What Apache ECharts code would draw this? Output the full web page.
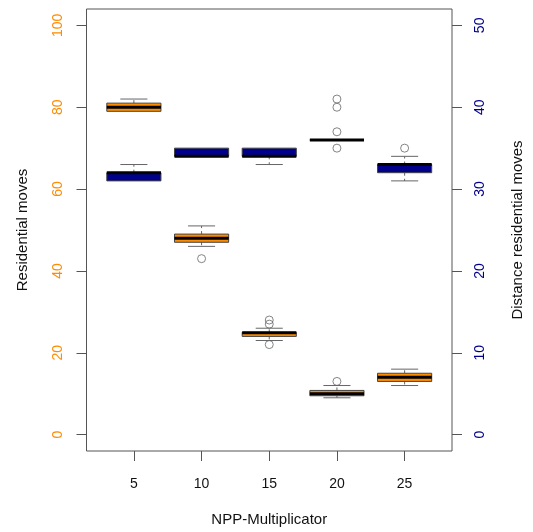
<!DOCTYPE html>
<html>
<head>
<meta charset="utf-8">
<script src="https://cdn.jsdelivr.net/npm/echarts@6/dist/echarts.min.js"></script>
<style>
  html, body { margin: 0; padding: 0; background: #fff; }
  #chart { width: 533px; height: 532px; }
</style>
</head>
<body>
<div id="chart"></div>
<script>
// NPP multiplicator groups
var categories = ['5', '10', '15', '20', '25'];

// Residential moves (left axis): [min, Q1, median, Q3, max] per group
var movesStats = [
  [79, 79, 80, 81, 82],
  [46, 47, 48, 49, 51],
  [23, 24, 24.9, 25, 26],
  [9, 9.5, 10, 10.8, 12],
  [12, 13, 14, 15, 16]
];
// Residential moves outliers: [group index, value]
var movesOutliers = [
  [1, 43],
  [2, 28], [2, 27], [2, 22],
  [3, 13]
];

// Distance of residential moves (right axis): [min, Q1, median, Q3, max]
var distStats = [
  [31, 31, 32, 32, 33],
  [34, 34, 34, 35, 35],
  [33, 34, 34, 35, 35],
  [36, 36, 36, 36, 36],
  [31, 32, 33, 33, 34]
];
var distOutliers = [
  [3, 41], [3, 40], [3, 37], [3, 35],
  [4, 35]
];

var leftTicks = [0, 20, 40, 60, 80, 100];
var rightTicks = [0, 10, 20, 30, 40, 50];

var ORANGE = '#FF8C00';
var NAVY = '#00008B';

function toItems(stats) {
  return stats.map(function (s, i) { return [i + 1].concat(s); });
}
function toPoints(list) {
  return list.map(function (p) { return [p[0] + 1, p[1]]; });
}

function boxRenderer(fill) {
  return function (params, api) {
    var x = api.value(0);
    var lo = api.coord([x, api.value(1)]);
    var q1 = api.coord([x, api.value(2)]);
    var md = api.coord([x, api.value(3)]);
    var q3 = api.coord([x, api.value(4)]);
    var hi = api.coord([x, api.value(5)]);
    var w = api.size([0.8, 0])[0];
    var cap = w / 2;
    var cx = q1[0];
    var children = [];
    var thin = { stroke: '#666', lineWidth: 1, fill: null };
    if (hi[1] < q3[1] - 0.5) {
      children.push({ type: 'line', shape: { x1: cx, y1: q3[1], x2: cx, y2: hi[1] },
        style: { stroke: '#666', lineWidth: 1, lineDash: [3, 3] } });
      children.push({ type: 'line', shape: { x1: cx - cap / 2, y1: hi[1], x2: cx + cap / 2, y2: hi[1] },
        style: thin });
    }
    if (lo[1] > q1[1] + 0.5) {
      children.push({ type: 'line', shape: { x1: cx, y1: q1[1], x2: cx, y2: lo[1] },
        style: { stroke: '#666', lineWidth: 1, lineDash: [3, 3] } });
      children.push({ type: 'line', shape: { x1: cx - cap / 2, y1: lo[1], x2: cx + cap / 2, y2: lo[1] },
        style: thin });
    }
    children.push({ type: 'rect',
      shape: { x: cx - w / 2, y: q3[1], width: w, height: Math.max(q1[1] - q3[1], 0.01) },
      style: { fill: fill, stroke: '#444', lineWidth: 1 } });
    children.push({ type: 'line', shape: { x1: cx - w / 2, y1: md[1], x2: cx + w / 2, y2: md[1] },
      style: { stroke: '#000', lineWidth: 3 } });
    return { type: 'group', children: children };
  };
}

var chart = echarts.init(document.getElementById('chart'), null, { renderer: 'canvas' });

var tickFont = { fontFamily: 'Liberation Sans, Arial, sans-serif', fontSize: 14 };
var titleFont = { fontFamily: 'Liberation Sans, Arial, sans-serif', fontSize: 15 };

// open circles for values beyond the whiskers
var outlierStyle = { color: 'rgba(255,255,255,0)', borderColor: '#666', borderWidth: 1 };

chart.setOption({
  animation: false,
  backgroundColor: '#fff',
  grid: {
    left: 86.5, right: 79.5, top: 9, bottom: 79.5,
    show: true, borderColor: '#555', borderWidth: 1, backgroundColor: 'transparent'
  },
  xAxis: {
    type: 'value', min: 0.3, max: 5.7,
    name: 'NPP-Multiplicator', nameLocation: 'middle', nameGap: 61,
    nameTextStyle: Object.assign({ color: '#111' }, titleFont),
    axisLine: { show: false, onZero: false },
    splitLine: { show: false },
    axisTick: { show: true, length: 10, inside: false, customValues: [1, 2, 3, 4, 5],
      lineStyle: { color: '#555', width: 1 } },
    axisLabel: Object.assign({ color: '#111', margin: 26, customValues: [1, 2, 3, 4, 5],
      formatter: function (v) { return categories[Math.round(v) - 1]; } }, tickFont)
  },
  yAxis: [
    {
      type: 'value', min: -4, max: 104, position: 'left',
      name: 'Residential moves', nameLocation: 'middle', nameGap: 56, nameRotate: 90,
      nameTextStyle: Object.assign({ color: '#111' }, titleFont),
      axisLine: { show: false, onZero: false },
      splitLine: { show: false },
      axisTick: { show: true, length: 10, customValues: leftTicks, lineStyle: { color: '#555' } },
      axisLabel: Object.assign({ color: ORANGE, rotate: 90, margin: 21, customValues: leftTicks }, tickFont)
    },
    {
      type: 'value', min: -2, max: 52, position: 'right',
      name: 'Distance residential moves', nameLocation: 'middle', nameGap: 58, nameRotate: 90,
      nameTextStyle: Object.assign({ color: '#111' }, titleFont),
      axisLine: { show: false, onZero: false },
      splitLine: { show: false },
      axisTick: { show: true, length: 10, customValues: rightTicks, lineStyle: { color: '#555' } },
      axisLabel: Object.assign({ color: NAVY, rotate: 90, margin: 21, customValues: rightTicks }, tickFont)
    }
  ],
  series: [
    {
      name: 'Residential moves', type: 'custom', yAxisIndex: 0,
      renderItem: boxRenderer(ORANGE),
      encode: { x: 0, y: [1, 2, 3, 4, 5] },
      data: toItems(movesStats), z: 2
    },
    {
      name: 'Distance residential moves', type: 'custom', yAxisIndex: 1,
      renderItem: boxRenderer(NAVY),
      encode: { x: 0, y: [1, 2, 3, 4, 5] },
      data: toItems(distStats), z: 2
    },
    {
      type: 'scatter', yAxisIndex: 0, symbol: 'circle', symbolSize: 8,
      itemStyle: outlierStyle,
      data: toPoints(movesOutliers), z: 3
    },
    {
      type: 'scatter', yAxisIndex: 1, symbol: 'circle', symbolSize: 8,
      itemStyle: outlierStyle,
      data: toPoints(distOutliers), z: 3
    }
  ]
});
</script>
</body>
</html>
